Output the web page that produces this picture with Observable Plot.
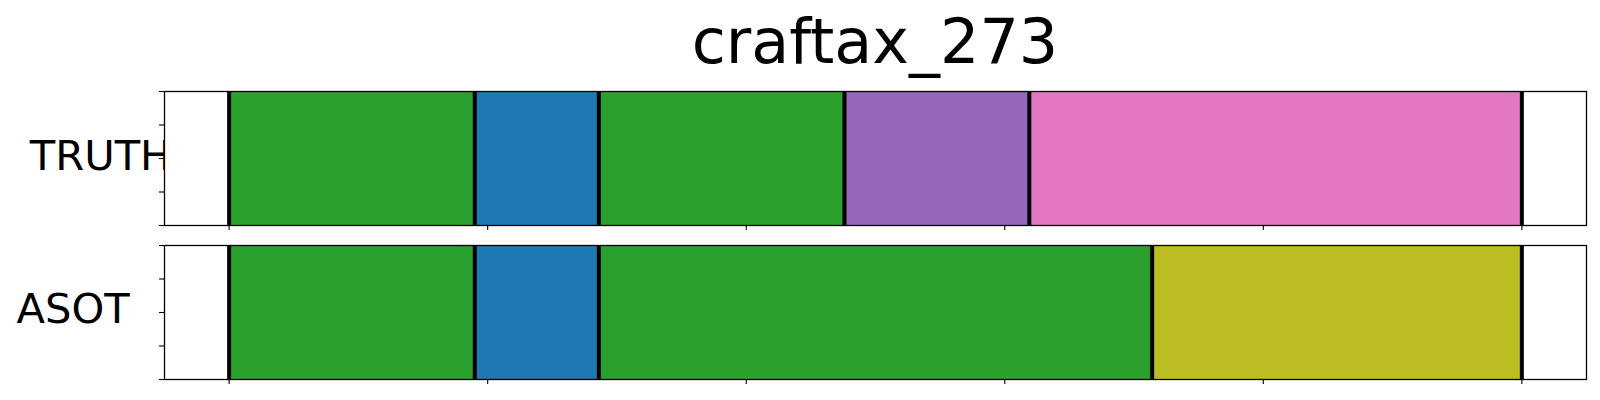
<!DOCTYPE html>
<html>
<head>
<meta charset="utf-8">
<script src="https://cdn.jsdelivr.net/npm/d3@7"></script>
<script src="https://cdn.jsdelivr.net/npm/@observablehq/plot@0.6"></script>
<style>
  html, body { margin: 0; padding: 0; background: #fff; }
  #wrap { width: 1600px; height: 400px; font-family: "DejaVu Sans", sans-serif; }
  #title { height: 90px; line-height: 83px; font-size: 62px; text-align: center;
           padding-left: 164px; padding-right: 14px; box-sizing: border-box; color: #000; white-space: nowrap; }
  svg { display: block; }
</style>
</head>
<body>
<div id="wrap">
  <div id="title">craftax_273</div>
  <div id="chart"></div>
</div>
<script>
const title = "craftax_273";
const rows = ["TRUTH", "ASOT"];

const truthStarts = [0, 190, 286, 476, 619];
const truthEnds   = [190, 286, 476, 619, 1000];
const truthColors = ["#2ca02c", "#1f77b4", "#2ca02c", "#9467bd", "#e377c2"];

const asotStarts = [0, 190, 286, 714];
const asotEnds   = [190, 286, 714, 1000];
const asotColors = ["#2ca02c", "#1f77b4", "#2ca02c", "#bcbd22"];

const xTicks = [0, 200, 400, 600, 800, 1000];
const yTicks = [0, 0.25, 0.5, 0.75, 1];

const segs = [];
truthStarts.forEach((s, i) => segs.push({row: "TRUTH", x1: s, x2: truthEnds[i], color: truthColors[i]}));
asotStarts.forEach((s, i) => segs.push({row: "ASOT", x1: s, x2: asotEnds[i], color: asotColors[i]}));

const bounds = [];
truthStarts.concat([truthEnds[truthEnds.length - 1]]).forEach(x => bounds.push({row: "TRUTH", x}));
asotStarts.concat([asotEnds[asotEnds.length - 1]]).forEach(x => bounds.push({row: "ASOT", x}));

const chart = Plot.plot({
  width: 1600,
  height: 310,
  marginLeft: 164,
  marginRight: 14,
  marginTop: 0,
  marginBottom: 20,
  style: {fontFamily: "DejaVu Sans", background: "white", overflow: "visible"},
  x: {domain: [-50, 1050], axis: null},
  y: {domain: [0, 1], axis: null},
  fy: {domain: rows, paddingInner: 0.129, paddingOuter: 0, axis: null},
  color: {type: "identity"},
  marks: [
    Plot.text([rows[0]], {fy: d => d, text: d => d, frameAnchor: "left", textAnchor: "start",
      lineAnchor: "bottom", dx: -134.7, dy: 11.8, fontSize: 41.67, fill: "black"}),
    Plot.text([rows[1]], {fy: d => d, text: d => d, frameAnchor: "left", textAnchor: "start",
      lineAnchor: "bottom", dx: -148, dy: 10.3, fontSize: 41.67, fill: "black"}),
    Plot.frame({fill: "white"}),
    Plot.rect(segs, {x1: "x1", x2: "x2", y1: 0, y2: 1, fy: "row", fill: "color"}),
    Plot.ruleX(bounds, {x: "x", fy: "row", stroke: "black", strokeWidth: 4}),
    Plot.frame({stroke: "black", strokeWidth: 1.3}),
    Plot.axisX({ticks: xTicks, tickSize: 5, tickFormat: () => "", facetAnchor: null, stroke: "black", strokeWidth: 1.1}),
    Plot.axisY({ticks: yTicks, tickSize: 5, tickFormat: () => "", facetAnchor: null, stroke: "black", strokeWidth: 1.1})
  ]
});
document.getElementById("chart").appendChild(chart);
</script>
</body>
</html>
